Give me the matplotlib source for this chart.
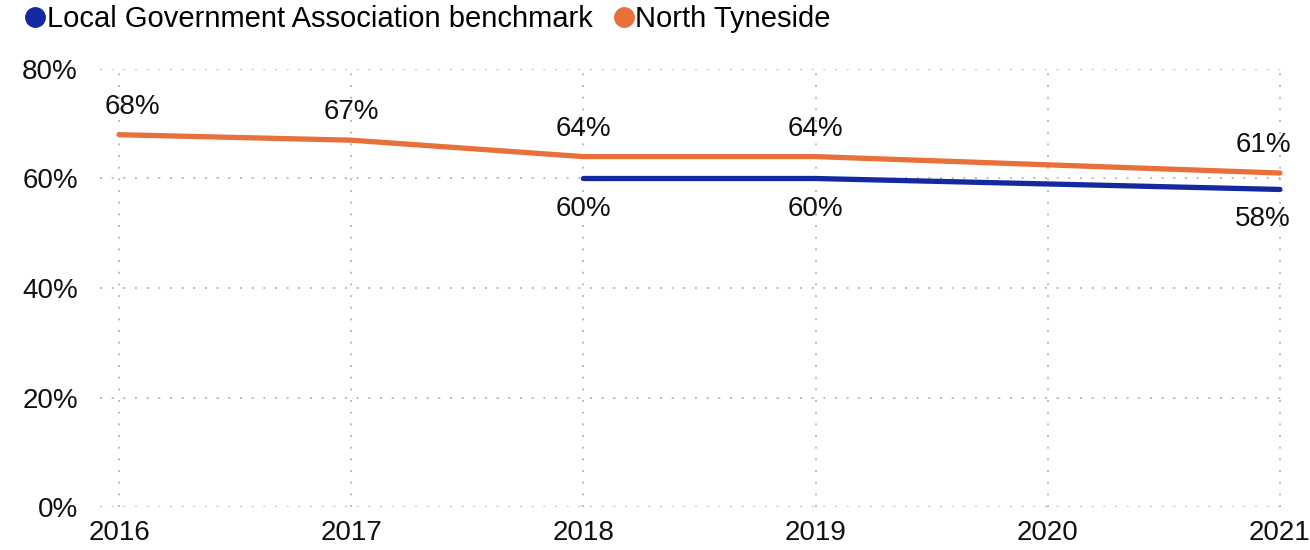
import matplotlib
matplotlib.use("Agg")
import matplotlib.pyplot as plt
from matplotlib.lines import Line2D

plt.rcParams['font.family'] = ['Liberation Sans', 'DejaVu Sans']

years = [2016, 2017, 2018, 2019, 2020, 2021]
north_tyneside = [68, 67, 64, 64, None, 61]
lga_benchmark = [None, None, 60, 60, None, 58]
ticks_y = [0, 20, 40, 60, 80]

ORANGE = '#E8703A'
BLUE = '#1428A0'

fig = plt.figure(figsize=(13.1, 5.5), dpi=100)
ax = fig.add_axes([100 / 1310, 1 - 507 / 550, 1190 / 1310, 438 / 550])


def pts(xs, ys):
    p = [(x, y) for x, y in zip(xs, ys) if y is not None]
    return [a for a, b in p], [b for a, b in p]


nx, ny = pts(years, north_tyneside)
bx, by = pts(years, lga_benchmark)
ax.plot(nx, ny, color=ORANGE, lw=3.8, solid_capstyle='round', solid_joinstyle='round', zorder=3)
ax.plot(bx, by, color=BLUE, lw=3.8, solid_capstyle='round', solid_joinstyle='round', zorder=3)


def label(x, y, dy):
    ha, dx = 'center', 0
    if x == years[0]:
        ha, dx = 'left', -14
    elif x == years[-1]:
        ha, dx = 'right', 11
    ax.annotate(f'{y:.0f}%', (x, y), xytext=(dx, dy), textcoords='offset pixels',
                ha=ha, va='center', fontsize=20, color='#111111', zorder=4)


for x, y in zip(nx, ny):
    label(x, y, 28)
for x, y in zip(bx, by):
    label(x, y, -30)

ax.set_xlim(2016 - 19 / 232.2, 2021 + 10 / 232.2)
ax.set_ylim(0, 80)
ax.set_xticks(years)
ax.set_yticks(ticks_y)
ax.set_yticklabels([f'{t}%' for t in ticks_y])
ax.tick_params(length=0, labelsize=20, colors='#111111')
ax.tick_params(axis='y', pad=16)
ax.tick_params(axis='x', pad=9)
ax.grid(True, color='#BBBBBB', linestyle=(0, (1, 5)), lw=1.4)
for s in ax.spines.values():
    s.set_visible(False)
ax.set_axisbelow(True)

handles = [Line2D([], [], ls='none', marker='o', ms=14, color=BLUE),
           Line2D([], [], ls='none', marker='o', ms=14, color=ORANGE)]
fig.legend(handles, ['Local Government Association benchmark', 'North Tyneside'],
           loc='upper left', bbox_to_anchor=(0.0115, 1.012), ncol=2, frameon=False,
           fontsize=21, handlelength=0.6, handletextpad=0.1, columnspacing=0.75,
           borderaxespad=0)

fig.savefig('out.png', dpi=100)
